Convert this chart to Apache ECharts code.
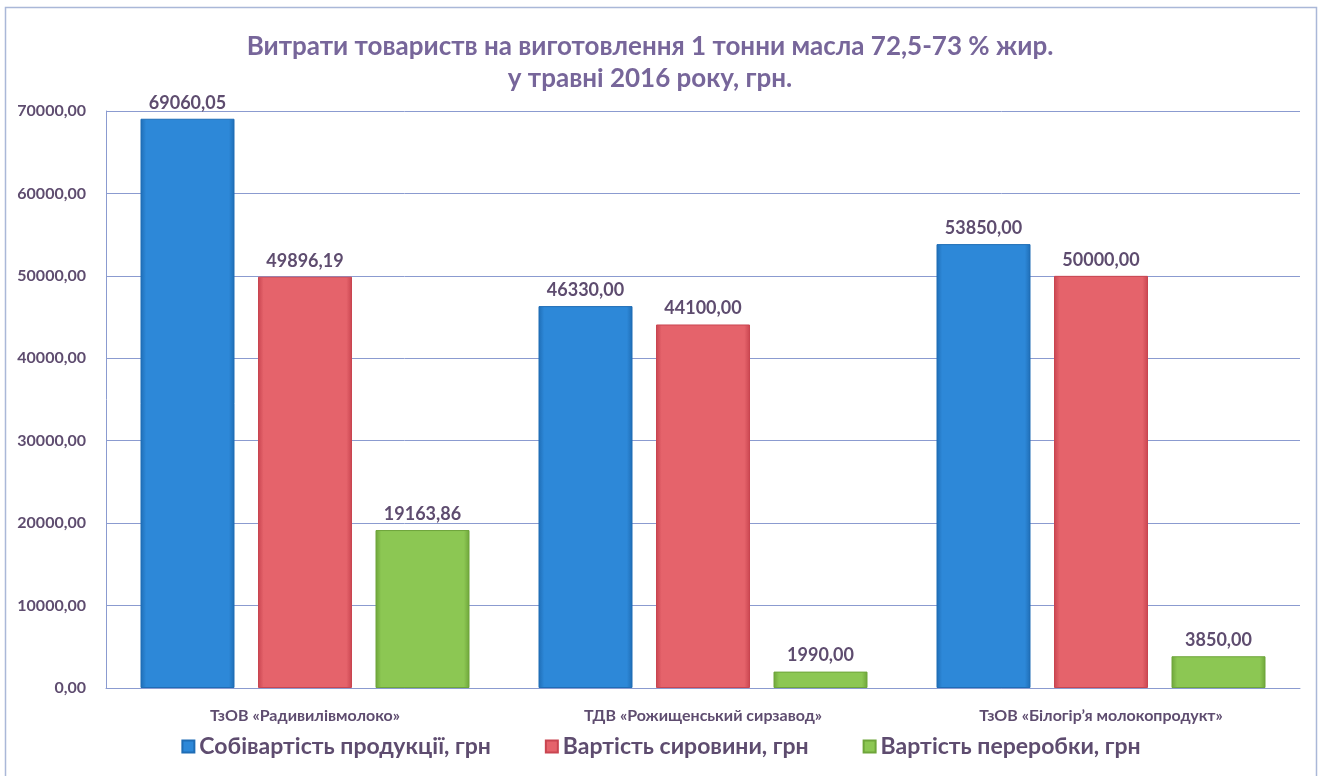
<!DOCTYPE html>
<html>
<head>
<meta charset="utf-8">
<script src="https://cdn.jsdelivr.net/npm/echarts@6/dist/echarts.min.js"></script>
<style>
  html, body { margin: 0; padding: 0; background: #fff; }
  #chart { width: 1322px; height: 776px; }
</style>
</head>
<body>
<div id="chart"></div>
<script>
// companies and costs per 1 tonne of butter, May 2016
const companies = ['ТзОВ «Радивилівмолоко»', 'ТДВ «Рожищенський сирзавод»', 'ТзОВ «Білогір’я молокопродукт»'];
const costTotal = [69060.05, 46330.00, 53850.00];
const costRaw = [49896.19, 44100.00, 50000.00];
const costProcessing = [19163.86, 1990.00, 3850.00];
const seriesNames = ['Собівартість продукції, грн', 'Вартість сировини, грн', 'Вартість переробки, грн'];

const textColor = '#5e4c6f';
const fmt = v => Number(v).toFixed(2).replace('.', ',');

function barFill(mid, dark) {
  return new echarts.graphic.LinearGradient(0, 0, 1, 0, [
    { offset: 0, color: dark },
    { offset: 0.06, color: mid },
    { offset: 0.94, color: mid },
    { offset: 1, color: dark }
  ]);
}

function makeSeries(name, data, mid, dark) {
  return {
    name: name,
    type: 'bar',
    data: data,
    barWidth: 94,
    barGap: '25%',
    itemStyle: { color: barFill(mid, dark), borderColor: dark, borderWidth: 1 },
    label: {
      show: true,
      position: 'top',
      distance: 7,
      formatter: p => fmt(p.value),
      color: textColor,
      fontFamily: 'Lato',
      fontWeight: 'bold',
      fontSize: 18
    }
  };
}

const chart = echarts.init(document.getElementById('chart'));
chart.setOption({
  backgroundColor: '#fff',
  animation: false,
  title: {
    text: 'Витрати товариств на виготовлення 1 тонни масла 72,5-73 % жир.\nу травні 2016 року, грн.',
    left: 645,
    textAlign: 'center',
    top: 26,
    textStyle: {
      color: '#77669a',
      fontFamily: 'Lato',
      fontWeight: 'bold',
      fontSize: 26,
      lineHeight: 32
    }
  },
  graphic: [{
    type: 'rect',
    shape: { x: 5.5, y: 7.5, width: 1311, height: 800 },
    style: { fill: 'none', stroke: '#aab8d8', lineWidth: 1.5 },
    silent: true
  }],
  legend: {
    bottom: 13,
    left: 'center',
    itemWidth: 12,
    itemHeight: 12,
    itemGap: 54,
    icon: 'rect',
    textStyle: {
      color: textColor,
      fontFamily: 'Lato',
      fontWeight: 'bold',
      fontSize: 23
    }
  },
  grid: { left: 106, right: 22, top: 111, bottom: 88 },
  xAxis: {
    type: 'category',
    data: companies,
    axisLine: { lineStyle: { color: '#8b9bd0' } },
    axisTick: { show: false },
    axisLabel: {
      margin: 20,
      color: textColor,
      fontFamily: 'Lato',
      fontWeight: 'bold',
      fontSize: 16
    }
  },
  yAxis: {
    type: 'value',
    min: 0,
    max: 70000,
    interval: 10000,
    axisLine: { show: true, lineStyle: { color: '#8b9bd0' } },
    splitLine: { lineStyle: { color: '#8b9bd0' } },
    axisLabel: {
      margin: 20,
      formatter: fmt,
      color: textColor,
      fontFamily: 'Lato',
      fontWeight: 'bold',
      fontSize: 16
    }
  },
  series: [
    makeSeries(seriesNames[0], costTotal, '#2d88d8', '#1f6db5'),
    makeSeries(seriesNames[1], costRaw, '#e5636b', '#c94550'),
    makeSeries(seriesNames[2], costProcessing, '#8cc753', '#6ea53a')
  ]
});
</script>
</body>
</html>
